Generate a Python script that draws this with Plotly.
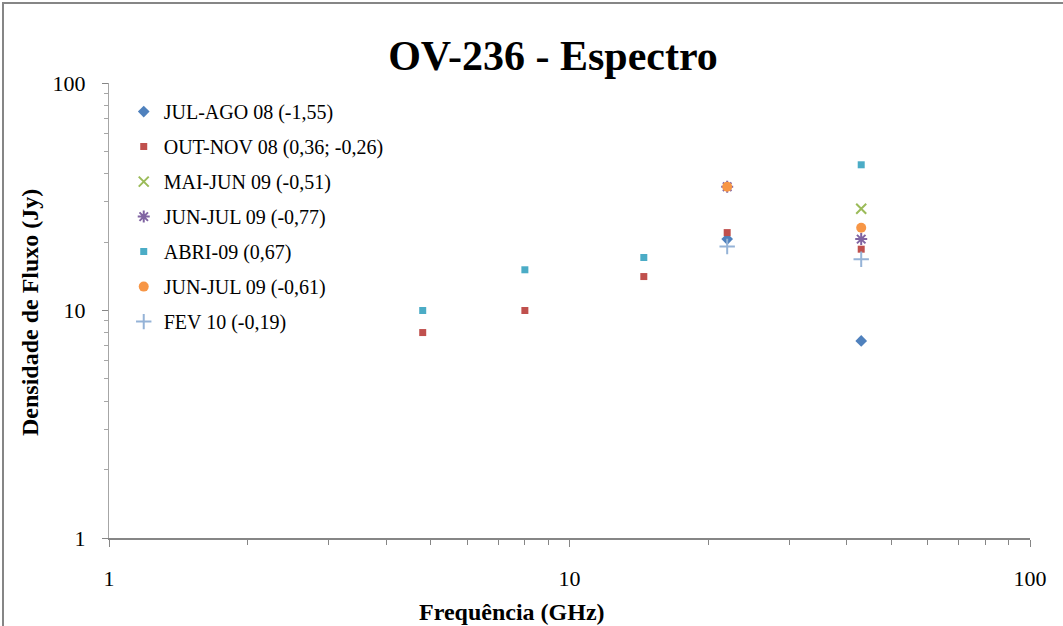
import plotly.graph_objects as go

# Data
freq = [4.8, 8.0, 14.5, 22.0, 43.0]
jul_ago_08 = [None, None, None, 20.6, 7.35]
out_nov_08 = [8.0, 10.0, 14.1, 22.0, 18.6]
mai_jun_09 = [None, None, None, None, 28.0]
jun_jul_09_a = [None, None, None, 35.0, 20.6]
abri_09 = [10.0, 15.1, 17.1, None, 43.7]
jun_jul_09_b = [None, None, None, 35.0, 23.1]
fev_10 = [None, None, None, 19.1, 16.8]

series_names = [
    "JUL-AGO 08 (-1,55)",
    "OUT-NOV 08 (0,36; -0,26)",
    "MAI-JUN 09 (-0,51)",
    "JUN-JUL 09 (-0,77)",
    "ABRI-09 (0,67)",
    "JUN-JUL 09 (-0,61)",
    "FEV 10 (-0,19)",
]
series_values = [jul_ago_08, out_nov_08, mai_jun_09, jun_jul_09_a, abri_09, jun_jul_09_b, fev_10]

tick_vals = [1, 10, 100]
tick_text = ["1", "10", "100"]

styles = [
    dict(symbol="diamond", size=9, color="#4F81BD"),
    dict(symbol="square", size=7, color="#C0504D"),
    dict(symbol="x-thin-open", size=10, color="#9BBB59", line=dict(width=2, color="#9BBB59")),
    dict(symbol="asterisk-open", size=10, color="#8064A2", line=dict(width=2, color="#8064A2")),
    dict(symbol="square", size=7, color="#4BACC6"),
    dict(symbol="circle", size=10, color="#F79646"),
    dict(symbol="cross-thin-open", size=11, color="#95B3D7", line=dict(width=2, color="#95B3D7")),
]

fig = go.Figure()
for i, (name, vals, st) in enumerate(zip(series_names, series_values, styles)):
    fig.add_trace(go.Scatter(
        x=freq, y=vals, mode="markers", name=name,
        marker=st, legendgroup=f"g{i}",
    ))

serif = "Liberation Serif, Times New Roman, serif"
L, R, T, B = 109, 1030, 83, 538
PW, PH = R - L, B - T

fig.update_layout(
    width=1063, height=626,
    margin=dict(l=L, r=1063 - R, t=T, b=626 - B, autoexpand=False),
    paper_bgcolor="white", plot_bgcolor="white",
    font=dict(family=serif, color="black"),
    title=dict(text="<b>OV-236 - Espectro</b>", x=553 / 1063, xanchor="center",
               y=1 - 55 / 626, yanchor="middle", font=dict(size=42, family=serif)),
    showlegend=True,
    legend=dict(x=0.016, y=0.98, xanchor="left", yanchor="top",
                font=dict(size=20, family=serif), bgcolor="rgba(0,0,0,0)",
                tracegroupgap=6, itemwidth=30),
    shapes=[dict(type="rect", xref="paper", yref="paper",
                 x0=(3 - L) / PW, x1=(1075 - L) / PW,
                 y0=(B - 640) / PH, y1=(B - 3) / PH,
                 line=dict(color="#868686", width=2), layer="below")],
    annotations=[
        dict(text="<b>Frequência (GHz)</b>", xref="paper", yref="paper",
             x=(512 - L) / PW, y=(B - 612) / PH, xanchor="center", yanchor="middle",
             showarrow=False, font=dict(size=24, family=serif)),
        dict(text="<b>Densidade de Fluxo (Jy)</b>", xref="paper", yref="paper",
             x=(30 - L) / PW, y=(B - 313) / PH, xanchor="center", yanchor="middle",
             textangle=-90, showarrow=False, font=dict(size=24, family=serif)),
    ],
)

fig.update_xaxes(
    type="log", range=[0, 2], showgrid=False, zeroline=False, automargin=False,
    showline=True, linecolor="#868686", linewidth=2,
    ticks="outside", ticklen=7, tickcolor="#868686", tickwidth=1,
    tickvals=tick_vals, ticktext=tick_text,
    tickfont=dict(size=22, family=serif), ticklabelstandoff=13,
    minor=dict(ticks="outside", ticklen=5, tickcolor="#868686", dtick="D1", showgrid=False),
)
fig.update_yaxes(
    type="log", range=[0, 2], showgrid=False, zeroline=False, automargin=False,
    showline=True, linecolor="#A6A6A6", linewidth=1,
    ticks="outside", ticklen=6, tickcolor="#868686", tickwidth=1,
    tickvals=tick_vals, ticktext=tick_text,
    tickfont=dict(size=22, family=serif), ticklabelstandoff=12,
    minor=dict(ticks="outside", ticklen=4, tickcolor="#A6A6A6", dtick="D1", showgrid=False),
)

fig.write_html("out.html")
